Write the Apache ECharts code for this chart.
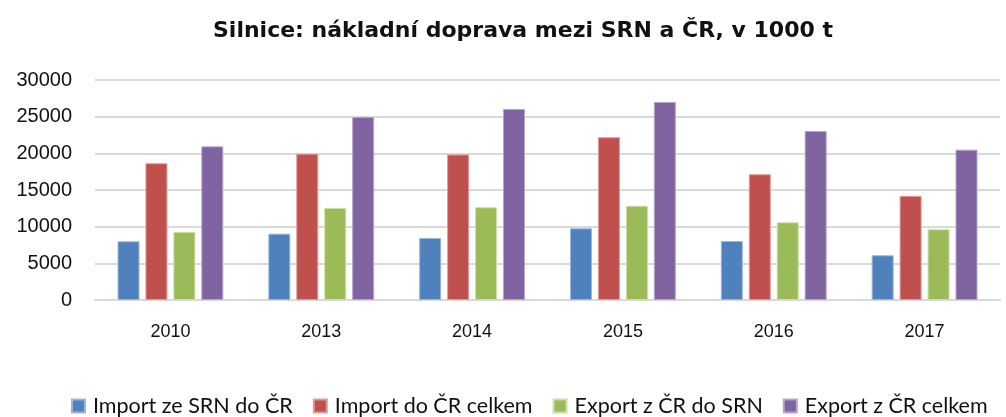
<!DOCTYPE html>
<html>
<head>
<meta charset="utf-8">
<script src="https://cdn.jsdelivr.net/npm/echarts@6/dist/echarts.min.js"></script>
<style>
  html, body { margin: 0; padding: 0; background: #fff; }
  #chart { width: 1006px; height: 417px; }
</style>
</head>
<body>
<div id="chart"></div>
<script>
// Road freight between Germany (SRN) and the Czech Republic, thousands of tonnes
const years = ['2010', '2013', '2014', '2015', '2016', '2017'];
const importFromDE = [8000, 9050, 8450, 9770, 8050, 6100];
const importTotal = [18650, 19950, 19850, 22200, 17150, 14200];
const exportToDE = [9300, 12550, 12650, 12850, 10600, 9650];
const exportTotal = [20950, 24950, 26050, 27000, 23050, 20500];
const yTicks = [0, 5000, 10000, 15000, 20000, 25000, 30000];

const seriesDefs = [
  { name: 'Import ze SRN do ČR', data: importFromDE, color: '#4F81BD', edge: '#9bb7dc' },
  { name: 'Import do ČR celkem', data: importTotal, color: '#C0504D', edge: '#e39a98' },
  { name: 'Export z ČR do SRN', data: exportToDE, color: '#9BBB59', edge: '#cde0a6' },
  { name: 'Export z ČR celkem', data: exportTotal, color: '#8064A2', edge: '#b7a4cf' }
];

const chart = echarts.init(document.getElementById('chart'), null, { renderer: 'canvas' });

chart.setOption({
  animation: false,
  backgroundColor: '#ffffff',
  title: {
    text: 'Silnice: nákladní doprava mezi SRN a ČR, v 1000 t',
    left: 208,
    top: 15,
    textStyle: { fontFamily: 'DejaVu Sans', fontWeight: 'bold', fontSize: 22, color: '#111' }
  },
  legend: {
    top: 390,
    left: 66,
    width: 935,
    itemWidth: 13,
    itemHeight: 13,
    itemGap: 20,
    icon: 'rect',
    textStyle: { fontFamily: 'Lato', fontSize: 21.5, color: '#111', padding: [0, 0, 0, 3] },
    data: seriesDefs.map(s => s.name)
  },
  grid: { left: 95, right: 6, top: 80, bottom: 117, containLabel: false },
  xAxis: {
    type: 'category',
    data: years,
    axisLine: { lineStyle: { color: '#d9d9d9', width: 2 } },
    axisTick: { show: false },
    axisLabel: { fontFamily: 'Liberation Sans', fontSize: 18, color: '#111', margin: 23 }
  },
  yAxis: {
    type: 'value',
    min: yTicks[0],
    max: yTicks[yTicks.length - 1],
    interval: yTicks[1] - yTicks[0],
    axisLine: { show: false },
    axisTick: { show: false },
    splitLine: { lineStyle: { color: '#d9d9d9', width: 2 } },
    axisLabel: {
      fontFamily: 'Liberation Sans', fontSize: 20, color: '#111', margin: 23,
      formatter: v => String(v)
    }
  },
  series: seriesDefs.map(s => ({
    name: s.name,
    type: 'bar',
    data: s.data,
    barWidth: 22,
    barGap: '27%',
    itemStyle: { color: s.color, borderColor: s.edge, borderWidth: 1 }
  }))
});
</script>
</body>
</html>
